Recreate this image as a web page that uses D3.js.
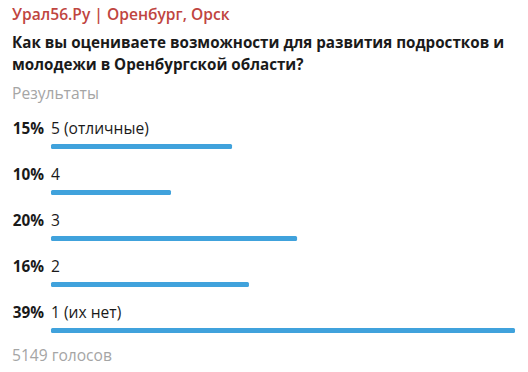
<!DOCTYPE html>
<html>
<head>
<meta charset="utf-8">
<script src="https://cdn.jsdelivr.net/npm/d3@7"></script>
<style>
  body { margin: 0; background: #fff; }
  text { font-family: "Open Sans", sans-serif; }
</style>
</head>
<body>
<div class="chart"></div>
<script>
// Poll results
let options = ["5 (отличные)", "4", "3", "2", "1 (их нет)"];
let percentLabels = ["15%", "10%", "20%", "16%", "39%"];
let votes = [771, 511, 1048, 843, 1976];
let totalVotes = "5149 голосов";
let channel = "Урал56.Ру | Оренбург, Орск";
let questionLines = ["Как вы оцениваете возможности для развития подростков и",
                     "молодежи в Оренбургской области?"];

let svgWidth = 528;
let svgHeight = 372;

let svg = d3.select(".chart")
  .append("svg")
  .attr("width", svgWidth)
  .attr("height", svgHeight);

svg.append("rect")
  .attr("width", svgWidth)
  .attr("height", svgHeight)
  .attr("fill", "#fff");

// header
svg.append("text")
  .attr("x", 12)
  .attr("y", 20)
  .attr("font-size", "15.6px")
  .attr("font-weight", 600)
  .attr("fill", "#c0453f")
  .text(channel);

svg.selectAll(".q")
  .data(questionLines)
  .enter()
  .append("text")
  .attr("class", "q")
  .attr("x", 12)
  .attr("y", (d, i) => 48 + i * 22)
  .attr("font-size", "15.2px")
  .attr("font-weight", 700)
  .attr("fill", "#1a1a1a")
  .text(d => d);

svg.append("text")
  .attr("x", 12)
  .attr("y", 99)
  .attr("font-size", "15.6px")
  .attr("fill", "#a5a5a5")
  .text("Результаты");

// scales
let x = d3.scaleLinear()
  .domain([0, d3.max(votes)])
  .range([51, 515]);

let y = d3.scaleBand()
  .domain(options)
  .range([123, 353])
  .paddingInner(0);

let rows = svg.selectAll(".row")
  .data(options)
  .enter()
  .append("g")
  .attr("class", "row")
  .attr("transform", d => `translate(0, ${y(d)})`);

rows.append("text")
  .attr("x", 44)
  .attr("y", 11)
  .attr("text-anchor", "end")
  .attr("font-size", "15.3px")
  .attr("font-weight", 700)
  .attr("fill", "#1a1a1a")
  .text((d, i) => percentLabels[i]);

rows.append("text")
  .attr("x", 51)
  .attr("y", 11)
  .attr("font-size", "15.6px")
  .attr("fill", "#1a1a1a")
  .text(d => d);

rows.append("rect")
  .attr("x", x(0))
  .attr("y", 21)
  .attr("height", 5)
  .attr("rx", 1.5)
  .attr("width", (d, i) => x(votes[i]) - x(0))
  .attr("fill", "#40a2dc");

svg.append("text")
  .attr("x", 12)
  .attr("y", 361)
  .attr("font-size", "15.6px")
  .attr("fill", "#a5a5a5")
  .text(totalVotes);
</script>
</body>
</html>
